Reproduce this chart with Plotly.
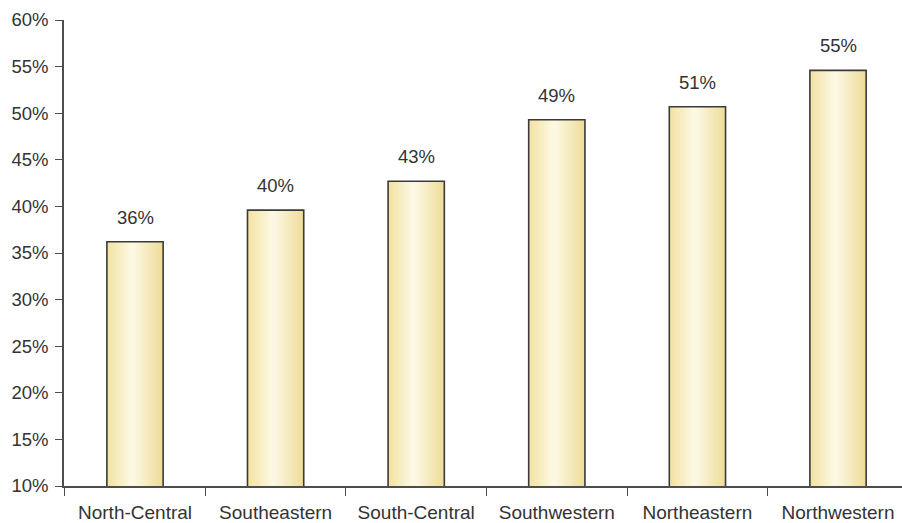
import plotly.graph_objects as go

# Share of respondents by region
regions = ["North-Central", "Southeastern", "South-Central",
           "Southwestern", "Northeastern", "Northwestern"]
shares = [36.2, 39.6, 42.7, 49.3, 50.7, 54.6]
y_ticks = [10, 15, 20, 25, 30, 35, 40, 45, 50, 55, 60]

BAR_W = 0.4
N_STRIPS = 40
INK = "#333333"
AXIS = "#4d4d4d"
FONT = "Liberation Sans, Arial"

# Horizontal shading across each bar: deeper cream at the edges, pale near the middle
stops = [(0.0, (242, 226, 160)), (0.45, (253, 249, 230)), (1.0, (238, 220, 152))]


def shade(t):
    for (t0, c0), (t1, c1) in zip(stops, stops[1:]):
        if t <= t1:
            f = (t - t0) / (t1 - t0)
            return "rgb({},{},{})".format(*[round(a + (b - a) * f) for a, b in zip(c0, c1)])
    return "rgb({},{},{})".format(*stops[-1][1])


fig = go.Figure()
step = BAR_W / N_STRIPS
for i in range(N_STRIPS):
    fig.add_trace(go.Bar(
        x=regions, y=shares, base=0,
        offset=-BAR_W / 2 + i * step,
        width=step * (1.6 if i < N_STRIPS - 1 else 1.0),
        marker=dict(color=shade((i + 0.5) / N_STRIPS), line=dict(width=0)),
        hoverinfo="skip", showlegend=False,
    ))

# Outline of each bar
fig.add_trace(go.Bar(
    x=regions, y=shares, base=0, width=BAR_W, offset=-BAR_W / 2,
    marker=dict(color="rgba(0,0,0,0)", line=dict(color="#3a3a3a", width=1.6)),
    showlegend=False,
))

for r, v in zip(regions, shares):
    fig.add_annotation(x=r, y=v, text=f"{v:.0f}%", showarrow=False,
                       yanchor="bottom", yshift=12,
                       font=dict(family=FONT, size=18.5, color=INK))

fig.update_layout(
    width=902, height=523,
    margin=dict(l=64, r=0, t=20, b=37),
    paper_bgcolor="white", plot_bgcolor="white",
    barmode="overlay",
    font=dict(family=FONT, size=18, color=INK),
    xaxis=dict(
        type="category", range=[-0.505, 5.455],
        tickson="boundaries", ticks="outside", ticklen=8, tickwidth=1.3,
        tickcolor=AXIS, showline=True, linecolor=AXIS, linewidth=1.5,
        showgrid=False, zeroline=False, ticklabelstandoff=8,
        tickfont=dict(family=FONT, size=19, color=INK),
    ),
    yaxis=dict(
        range=[10, 60], tickvals=y_ticks,
        ticktext=[f"{t}%" for t in y_ticks],
        ticks="outside", ticklen=7, tickwidth=1.3, tickcolor=AXIS,
        showline=True, linecolor=AXIS, linewidth=1.5,
        showgrid=False, zeroline=False, ticklabelstandoff=3,
        tickfont=dict(family=FONT, size=18.5, color=INK),
    ),
)

fig.write_html("out.html")
